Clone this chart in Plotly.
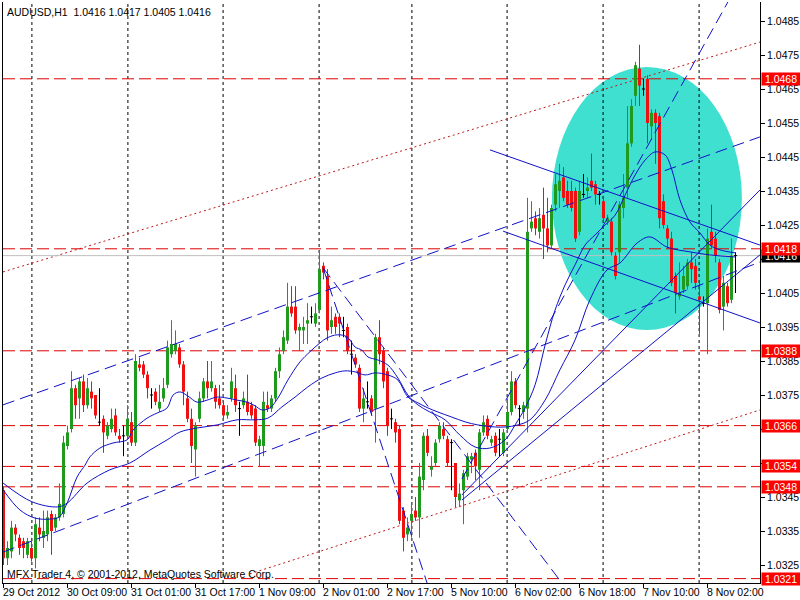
import plotly.graph_objects as go

# ---------------- data (AUDUSD H1) ----------------
open_ = [1.0347,1.0327,1.0329,1.0336,1.0333,1.0332,1.0328,1.0330,1.0327,1.0336,
         1.0333,1.0334,1.0340,1.0336,1.0339,1.0340,1.0360,1.0365,1.0377,1.0374,
         1.0379,1.0372,1.0376,1.0375,1.0367,1.0368,1.0363,1.0365,1.0369,1.0363,
         1.0363,1.0363,1.0367,1.0361,1.0384,1.0384,1.0381,1.0375,1.0376,1.0371,
         1.0374,1.0378,1.0387,1.0388,1.0389,1.0384,1.0374,1.0368,1.0359,1.0368,
         1.0374,1.0379,1.0377,1.0377,1.0374,1.0372,1.0369,1.0374,1.0377,1.0371,
         1.0372,1.0373,1.0372,1.0371,1.0360,1.0360,1.0372,1.0371,1.0374,1.0382,
         1.0388,1.0391,1.0401,1.0401,1.0394,1.0394,1.0396,1.0398,1.0396,1.0400,
         1.0413,1.0410,1.0395,1.0398,1.0398,1.0394,1.0395,1.0387,1.0386,1.0383,
         1.0371,1.0373,1.0374,1.0371,1.0392,1.0388,1.0382,1.0368,1.0367,1.0365,
         1.0341,1.0334,1.0338,1.0341,1.0339,1.0350,1.0363,1.0353,1.0355,1.0362,
         1.0365,1.0362,1.0361,1.0355,1.0344,1.0347,1.0351,1.0356,1.0358,1.0353,
         1.0364,1.0368,1.0361,1.0363,1.0362,1.0358,1.0365,1.0370,1.0379,1.0371,
         1.0370,1.0371,1.0424,1.0427,1.0423,1.0428,1.0424,1.0419,1.0431,1.0435,
         1.0439,1.0435,1.0435,1.0435,1.0423,1.0434,1.0435,1.0438,1.0437,1.0434,
         1.0432,1.0426,1.0426,1.0416,1.0417,1.0430,1.0436,1.0449,1.0463,1.0471,
         1.0465,1.0468,1.0454,1.0458,1.0457,1.0432,1.0424,1.0421,1.0410,1.0404,
         1.0406,1.0407,1.0414,1.0413,1.0404,1.0402,1.0402,1.0423,1.0421,1.0414,
         1.0401,1.0407,1.0403,1.0416]
high_ = [1.0348,1.0332,1.0338,1.0337,1.0334,1.0333,1.0333,1.0333,1.0339,1.0339,
         1.0341,1.0341,1.0341,1.0340,1.0349,1.0363,1.0366,1.0382,1.0378,1.0380,
         1.0381,1.0380,1.0379,1.0375,1.0377,1.0369,1.0367,1.0371,1.0371,1.0365,
         1.0366,1.0372,1.0370,1.0387,1.0386,1.0385,1.0382,1.0377,1.0377,1.0378,
         1.0380,1.0391,1.0397,1.0394,1.0390,1.0385,1.0376,1.0371,1.0367,1.0376,
         1.0380,1.0385,1.0385,1.0378,1.0378,1.0373,1.0372,1.0383,1.0381,1.0373,
         1.0376,1.0381,1.0373,1.0372,1.0363,1.0376,1.0376,1.0375,1.0383,1.0389,
         1.0394,1.0408,1.0407,1.0407,1.0396,1.0398,1.0402,1.0401,1.0402,1.0417,
         1.0414,1.0412,1.0401,1.0399,1.0399,1.0398,1.0396,1.0391,1.0387,1.0384,
         1.0377,1.0379,1.0375,1.0393,1.0397,1.0389,1.0383,1.0371,1.0368,1.0366,
         1.0342,1.0339,1.0343,1.0345,1.0355,1.0364,1.0365,1.0357,1.0362,1.0367,
         1.0367,1.0363,1.0362,1.0355,1.0349,1.0353,1.0358,1.0358,1.0359,1.0365,
         1.0369,1.0369,1.0363,1.0364,1.0365,1.0365,1.0374,1.0382,1.0380,1.0372,
         1.0373,1.0433,1.0432,1.0429,1.0430,1.0436,1.0433,1.0431,1.0440,1.0443,
         1.0442,1.0438,1.0438,1.0436,1.0438,1.0440,1.0439,1.0446,1.0438,1.0435,
         1.0433,1.0428,1.0427,1.0417,1.0432,1.0440,1.0460,1.0462,1.0473,1.0478,
         1.0468,1.0469,1.0459,1.0459,1.0458,1.0434,1.0425,1.0423,1.0411,1.0414,
         1.0413,1.0415,1.0417,1.0415,1.0408,1.0404,1.0424,1.0431,1.0423,1.0415,
         1.0410,1.0408,1.0421,1.0417]
low_ = [1.0325,1.0325,1.0327,1.0332,1.0328,1.0327,1.0327,1.0326,1.0324,1.0332,
        1.0330,1.0332,1.0328,1.0335,1.0338,1.0339,1.0359,1.0364,1.0368,1.0368,
        1.0370,1.0371,1.0371,1.0368,1.0366,1.0358,1.0362,1.0364,1.0363,1.0361,
        1.0357,1.0362,1.0360,1.0360,1.0382,1.0380,1.0374,1.0371,1.0372,1.0370,
        1.0373,1.0377,1.0386,1.0387,1.0383,1.0372,1.0367,1.0355,1.0351,1.0367,
        1.0373,1.0374,1.0376,1.0371,1.0371,1.0368,1.0368,1.0373,1.0370,1.0363,
        1.0371,1.0369,1.0368,1.0360,1.0354,1.0357,1.0370,1.0370,1.0373,1.0380,
        1.0387,1.0390,1.0398,1.0393,1.0388,1.0390,1.0390,1.0396,1.0395,1.0399,
        1.0409,1.0391,1.0393,1.0393,1.0392,1.0392,1.0387,1.0381,1.0383,1.0370,
        1.0367,1.0371,1.0369,1.0361,1.0384,1.0377,1.0363,1.0365,1.0361,1.0337,
        1.0329,1.0332,1.0333,1.0338,1.0333,1.0347,1.0357,1.0351,1.0354,1.0361,
        1.0362,1.0354,1.0347,1.0342,1.0342,1.0337,1.0350,1.0352,1.0350,1.0347,
        1.0363,1.0362,1.0360,1.0357,1.0357,1.0357,1.0364,1.0369,1.0371,1.0366,
        1.0368,1.0364,1.0423,1.0422,1.0421,1.0415,1.0417,1.0418,1.0429,1.0430,
        1.0432,1.0430,1.0429,1.0420,1.0422,1.0433,1.0433,1.0435,1.0431,1.0431,
        1.0426,1.0425,1.0416,1.0409,1.0414,1.0427,1.0433,1.0448,1.0460,1.0460,
        1.0463,1.0449,1.0450,1.0443,1.0424,1.0424,1.0418,1.0407,1.0399,1.0403,
        1.0405,1.0406,1.0408,1.0406,1.0393,1.0401,1.0387,1.0418,1.0414,1.0399,
        1.0394,1.0401,1.0402,1.0405]
close_ = [1.0327,1.0330,1.0336,1.0334,1.0330,1.0330,1.0332,1.0327,1.0337,1.0334,
          1.0335,1.0339,1.0335,1.0339,1.0343,1.0361,1.0364,1.0377,1.0372,1.0379,
          1.0372,1.0377,1.0374,1.0369,1.0367,1.0364,1.0366,1.0368,1.0364,1.0362,
          1.0363,1.0368,1.0361,1.0385,1.0383,1.0381,1.0377,1.0375,1.0373,1.0373,
          1.0377,1.0389,1.0390,1.0390,1.0384,1.0376,1.0368,1.0360,1.0366,1.0374,
          1.0379,1.0377,1.0379,1.0373,1.0372,1.0369,1.0370,1.0379,1.0372,1.0371,
          1.0374,1.0370,1.0369,1.0361,1.0362,1.0373,1.0371,1.0374,1.0382,1.0387,
          1.0392,1.0401,1.0399,1.0394,1.0395,1.0395,1.0397,1.0398,1.0399,1.0412,
          1.0411,1.0394,1.0397,1.0395,1.0396,1.0394,1.0388,1.0387,1.0384,1.0371,
          1.0374,1.0373,1.0370,1.0392,1.0387,1.0379,1.0366,1.0368,1.0364,1.0338,
          1.0333,1.0336,1.0340,1.0339,1.0351,1.0363,1.0358,1.0354,1.0361,1.0366,
          1.0363,1.0355,1.0361,1.0345,1.0346,1.0352,1.0357,1.0357,1.0354,1.0364,
          1.0367,1.0363,1.0362,1.0358,1.0362,1.0364,1.0370,1.0379,1.0372,1.0371,
          1.0372,1.0423,1.0426,1.0424,1.0427,1.0424,1.0419,1.0430,1.0437,1.0438,
          1.0433,1.0431,1.0430,1.0421,1.0435,1.0434,1.0436,1.0436,1.0434,1.0434,
          1.0427,1.0427,1.0417,1.0410,1.0431,1.0433,1.0449,1.0460,1.0472,1.0466,
          1.0465,1.0455,1.0458,1.0455,1.0427,1.0425,1.0421,1.0408,1.0405,1.0405,
          1.0410,1.0414,1.0412,1.0408,1.0403,1.0402,1.0421,1.0419,1.0416,1.0400,
          1.0408,1.0402,1.0416,1.0416]

time_tick_bars = [0, 16, 32, 48, 64, 80, 96, 112, 128, 144, 160, 176]
time_tick_labels = ["29 Oct 2012", "30 Oct 09:00", "31 Oct 01:00", "31 Oct 17:00",
                    "1 Nov 09:00", "2 Nov 01:00", "2 Nov 17:00", "5 Nov 10:00",
                    "6 Nov 02:00", "6 Nov 18:00", "7 Nov 10:00", "8 Nov 02:00"]
day_separators = [7.1, 31.1, 54.9, 78.9, 102.1, 125.9, 149.9, 173.9]
price_ticks = [1.0325, 1.0335, 1.0345, 1.0355, 1.0365, 1.0375, 1.0385, 1.0395,
               1.0405, 1.0415, 1.0425, 1.0435, 1.0445, 1.0455, 1.0465, 1.0475, 1.0485]
hidden_tick_labels = [1.0355, 1.0365, 1.0415]   # covered by the price boxes
level_prices = [1.0468, 1.0418, 1.0388, 1.0366, 1.0354, 1.0348, 1.0321]
bid_price = 1.0416
title_text = "AUDUSD,H1  1.0416 1.0417 1.0405 1.0416"

# moving averages (bar index, price)
ma_fast_bars = [-0.1, 4.1, 7.9, 11.6, 13.9, 15.9, 18.4, 20.4, 21.6, 24.1, 27.4, 30.9, 32.4,
                35.9, 38.4, 40.9, 42.4, 44.1, 46.1, 48.4, 50.9, 53.4, 55.9, 58.4, 60.9,
                62.9, 64.6, 66.6, 68.6, 71.1, 74.1, 76.6, 79.1, 80.9, 83.4, 85.9, 87.9,
                89.6, 91.1, 93.6, 96.1, 98.6, 101.1, 103.6, 106.6, 110.4, 114.1, 117.9,
                121.6, 125.4, 127.9, 130.4, 132.9, 135.4, 137.9, 140.4, 142.9, 145.4,
                147.9, 150.4, 152.9, 155.4, 157.9, 160.4, 162.9, 165.4, 167.1, 169.1,
                171.6, 174.1, 176.6, 179.1, 182.9]
ma_fast_vals = [1.03471, 1.03412, 1.03388, 1.03385, 1.03391, 1.03432, 1.03509, 1.03544,
                1.03568, 1.03594, 1.03609, 1.03618, 1.03647, 1.03682, 1.03697, 1.03712,
                1.03750, 1.03759, 1.03747, 1.03729, 1.03735, 1.03744, 1.03741, 1.03735,
                1.03729, 1.03718, 1.03706, 1.03712, 1.03741, 1.03794, 1.03847, 1.03877,
                1.03903, 1.03918, 1.03927, 1.03921, 1.03891, 1.03882, 1.03862, 1.03853,
                1.03838, 1.03800, 1.03750, 1.03721, 1.03700, 1.03677, 1.03632, 1.03597,
                1.03594, 1.03618, 1.03662, 1.03712, 1.03780, 1.03897, 1.04000, 1.04074,
                1.04133, 1.04191, 1.04221, 1.04250, 1.04279, 1.04338, 1.04397, 1.04441,
                1.04465, 1.04456, 1.04412, 1.04324, 1.04259, 1.04227, 1.04191, 1.04177,
                1.04168]
ma_slow_bars = [-0.1, 7.1, 13.6, 15.9, 20.9, 26.6, 31.6, 36.6, 40.9, 44.1, 48.4, 53.4,
                58.4, 62.9, 66.1, 69.6, 72.9, 76.1, 79.6, 82.9, 85.4, 87.9, 90.4, 92.9,
                96.1, 98.6, 101.1, 103.6, 106.1, 108.6, 112.1, 115.4, 118.6, 122.9, 125.4,
                128.6, 131.6, 135.4, 139.1, 142.9, 146.6, 150.9, 154.1, 158.4, 161.6,
                165.9, 171.6, 176.6, 182.9]
ma_slow_vals = [1.03491, 1.03436, 1.03421, 1.03432, 1.03491, 1.03530, 1.03550, 1.03588,
                1.03618, 1.03641, 1.03653, 1.03662, 1.03677, 1.03677, 1.03682, 1.03715,
                1.03744, 1.03774, 1.03800, 1.03815, 1.03821, 1.03818, 1.03809, 1.03815,
                1.03809, 1.03794, 1.03744, 1.03727, 1.03712, 1.03700, 1.03685, 1.03671,
                1.03662, 1.03656, 1.03656, 1.03662, 1.03677, 1.03735, 1.03824, 1.03912,
                1.04030, 1.04118, 1.04138, 1.04197, 1.04215, 1.04185, 1.04171, 1.04162,
                1.04156]

# hand-drawn objects: (bar, price) end points
blue_dashed_lines = [
    ((-0.125, 1.03721), (189.1, 1.04509)),
    ((-0.125, 1.03288), (189.1, 1.04141)),
    ((79.9, 1.04124), (105.9, 1.03197)),
    ((79.9, 1.04124), (139.6, 1.03197)),
    ((114.6, 1.03503), (181.1, 1.04906)),
]
blue_solid_lines = [
    ((121.6, 1.04471), (189.1, 1.04191)),
    ((124.9, 1.04232), (189.1, 1.03962)),
    ((114.6, 1.03456), (189.1, 1.04353)),
    ((114.6, 1.03441), (189.1, 1.04162)),
]
red_dotted_lines = [
    ((-0.125, 1.04112), (189.1, 1.04788)),
    ((61.6, 1.03224), (189.1, 1.03706)),
]
ellipse_bars = [137.1, 184.6]
ellipse_prices = [1.03941, 1.04715]

# ---------------- figure ----------------
X_RANGE = [-0.125, 189.125]
Y_RANGE = [1.031971, 1.049059]
UP, DOWN, DOJI = "#1f9a1f", "#ee1111", "#000000"
BLUE = "#1010c8"

fig = go.Figure()


def segs(pairs):
    xs, ys = [], []
    for (x0, y0), (x1, y1) in pairs:
        xs += [x0, x1, None]
        ys += [y0, y1, None]
    return xs, ys


def add_lines(pairs, color, width=1, dash="solid"):
    xs, ys = segs(pairs)
    fig.add_trace(go.Scatter(x=xs, y=ys, mode="lines", hoverinfo="skip",
                             line=dict(color=color, width=width, dash=dash),
                             showlegend=False, cliponaxis=True))


# day separators (dotted verticals)
add_lines([((d, Y_RANGE[0]), (d, Y_RANGE[1])) for d in day_separators], "#000000", 1, "3px,3px")
# red dotted channel
add_lines(red_dotted_lines, "#c01818", 1, "2px,3px")
# horizontal levels
add_lines([((X_RANGE[0], p), (X_RANGE[1], p)) for p in level_prices], "#dd0000", 1, "12px,5px")
# bid line
add_lines([((X_RANGE[0], bid_price), (X_RANGE[1], bid_price))], "#c0c0c0", 1)

# candles
n = len(open_)
groups = {UP: [], DOWN: [], DOJI: []}
for i in range(n):
    o, h, l, c = open_[i], high_[i], low_[i], close_[i]
    col = UP if c > o else (DOWN if c < o else DOJI)
    groups[col].append(i)
for col, ids in groups.items():
    wick = [((i, low_[i]), (i, high_[i])) for i in ids]
    add_lines(wick, col, 1)
    if col == DOJI:
        body = [((i - 0.4, open_[i]), (i + 0.4, open_[i])) for i in ids]
        add_lines(body, col, 1)
    else:
        body = [((i, open_[i]), (i, close_[i])) for i in ids]
        add_lines(body, col, 3)

# trend lines and moving averages
add_lines(blue_dashed_lines, BLUE, 1, "12px,6px")
add_lines(blue_solid_lines, BLUE, 1)
fig.add_trace(go.Scatter(x=ma_fast_bars, y=ma_fast_vals, mode="lines", hoverinfo="skip",
                         line=dict(color=BLUE, width=1, shape="spline"), showlegend=False))
fig.add_trace(go.Scatter(x=ma_slow_bars, y=ma_slow_vals, mode="lines", hoverinfo="skip",
                         line=dict(color=BLUE, width=1, shape="spline"), showlegend=False))

# ellipse object (filled, behind everything)
fig.add_shape(type="circle", xref="x", yref="y", layer="below",
              x0=ellipse_bars[0], x1=ellipse_bars[1],
              y0=ellipse_prices[0], y1=ellipse_prices[1],
              fillcolor="#40e0d0", line=dict(width=0))

FONT = "Liberation Sans, Arial, sans-serif"
ann = []
for b, lab in zip(time_tick_bars, time_tick_labels):
    ann.append(dict(x=b, xref="x", y=0, yref="paper", text=lab, showarrow=False,
                    xanchor="left", yanchor="top", xshift=-3, yshift=-1,
                    font=dict(family=FONT, size=10.5, color="black")))
# current price label (black) then level labels (red)
ann.append(dict(x=1, xref="paper", y=bid_price, yref="y", text=f" {bid_price:.4f} ",
                showarrow=False, xanchor="left", yanchor="middle", xshift=1,
                bgcolor="black", borderpad=0, font=dict(family=FONT, size=10.5, color="white")))
for p in level_prices:
    ann.append(dict(x=1, xref="paper", y=p, yref="y", text=f" {p:.4f} ",
                    showarrow=False, xanchor="left", yanchor="middle", xshift=1,
                    bgcolor="#ff0000", borderpad=0, font=dict(family=FONT, size=10.5, color="white")))
ann.append(dict(x=0, xref="paper", y=1, yref="paper", text=title_text, showarrow=False,
                xanchor="left", yanchor="top", xshift=2, yshift=-2,
                font=dict(family=FONT, size=10.5, color="black")))
ann.append(dict(x=0, xref="paper", y=0, yref="paper",
                text="MFX Trader 4, © 2001-2012, MetaQuotes Software Corp.", showarrow=False,
                xanchor="left", yanchor="bottom", xshift=2, yshift=1,
                font=dict(family=FONT, size=10.5, color="black")))

tick_text = ["" if p in hidden_tick_labels else f"{p:.4f}" for p in price_ticks]

fig.update_layout(
    template="none",
    width=800, height=600,
    margin=dict(l=3, r=40, t=2, b=17, pad=0),
    paper_bgcolor="white", plot_bgcolor="white",
    showlegend=False,
    annotations=ann,
    xaxis=dict(range=X_RANGE, showgrid=False, zeroline=False, showline=True,
               linecolor="black", linewidth=1, ticks="outside", ticklen=4,
               tickcolor="black", tickvals=time_tick_bars, showticklabels=False,
               fixedrange=True, automargin=False),
    yaxis=dict(range=Y_RANGE, side="right", showgrid=False, zeroline=False,
               showline=True, mirror=True, linecolor="black", linewidth=1,
               ticks="outside", ticklen=4, tickcolor="black",
               tickvals=price_ticks, ticktext=tick_text,
               tickfont=dict(family=FONT, size=10.5, color="black"), fixedrange=True,
               automargin=False),
)

fig.write_html("out.html", config={"displayModeBar": False, "staticPlot": True},
               post_script="document.body.style.margin='0px';"
               "document.body.style.overflow='hidden';")
